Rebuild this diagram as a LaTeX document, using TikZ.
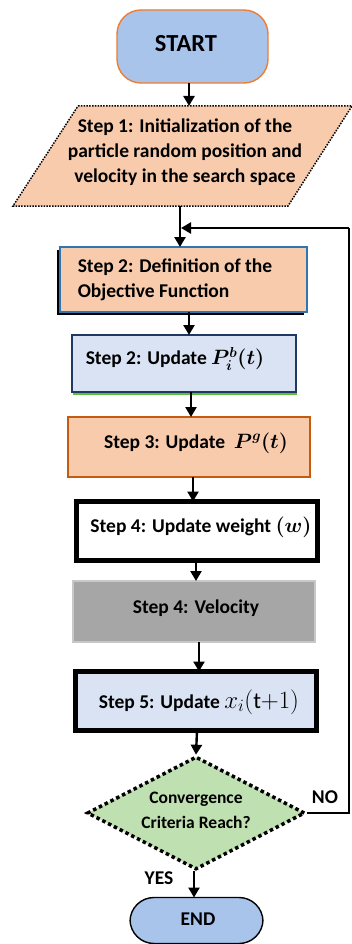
\documentclass[tikz,border=0pt]{standalone}
\usepackage{amsmath}
\usepackage{fontspec}
\setmainfont{Carlito}
\usetikzlibrary{arrows.meta,shapes.geometric}

\definecolor{capblue}{HTML}{A9C4EB}
\definecolor{peach}{HTML}{F8CBAD}
\definecolor{paleblue}{HTML}{DAE3F3}
\definecolor{edgeorange}{HTML}{ED7D31}
\definecolor{darkorange}{HTML}{C55A11}
\definecolor{edgeblue}{HTML}{2E75B6}
\definecolor{navy}{HTML}{1F3864}
\definecolor{shadegreen}{HTML}{5BC236}
\definecolor{midgray}{HTML}{A6A6A6}
\definecolor{lightgray}{HTML}{C8C8C8}
\definecolor{leafgreen}{HTML}{BFE0B0}

\tikzset{
  boxtext/.style={font=\bfseries\fontsize{19.5}{25}\selectfont, align=center, inner sep=0pt},
  box/.style={rectangle, inner sep=0pt, outer sep=0pt},
  terminal/.style={box, rounded corners=24pt, line width=1.4pt},
  arr/.style={line width=2.4pt, -{Triangle[length=10pt,width=11pt]}},
  loopline/.style={line width=1.6pt},
  tag/.style={font=\bfseries\fontsize{19.5}{22}\selectfont, inner sep=0pt}
}

\begin{document}
\begin{tikzpicture}[x=1pt,y=-1pt]
\useasboundingbox (0,0) rectangle (352,944);

% start terminal
\node[terminal, draw=edgeorange, fill=capblue, minimum width=151pt, minimum height=73pt]
  (start) at (192.5,46.5) {};
\node[font=\bfseries\fontsize{24.5}{28}\selectfont, inner sep=0pt] (starttxt) at (186,44) {START};

% step 1: input parallelogram
\draw[fill=peach, line width=1.5pt, dash pattern=on 1.5pt off 1.3pt]
  (78,106) -- (352,106) -- (288,206) -- (13,206) -- cycle;
\coordinate (s1n) at (189,106);
\coordinate (s1s) at (180,206);
\node[boxtext] (step1) at (185,152) {Step 1: Initialization of the\\particle random  position and\\velocity in the search space};

% step 2: objective function
\fill (180.5,282.5) ++(-123.5,-32.5) rectangle ++(247,65);
\node[box, draw=edgeblue, fill=peach, line width=1.2pt, minimum width=247pt, minimum height=65pt]
  (step2) at (183.5,279.5) {};
\node[boxtext, align=left] (step2txt) at (175,280) {Step 2: Definition of the\\Objective Function};

% step 2: personal best
\fill[shadegreen] (185,366) ++(-112,-28.5) rectangle ++(224,57);
\node[box, draw=navy, fill=paleblue, line width=1.2pt, minimum width=224pt, minimum height=57pt]
  (step2u) at (184,363.5) {};
\node[boxtext] (step2utxt) at (175,359) {Step 2: Update {\fontsize{21}{25}\selectfont\boldmath$P_i^b(t)$}};

% step 3: global best
\node[box, draw=darkorange, fill=peach, line width=1.2pt, minimum width=242pt, minimum height=60pt]
  (step3) at (189,447) {};
\node[boxtext] (step3txt) at (196,443) {Step 3: Update \ {\fontsize{21}{25}\selectfont\boldmath$P^g(t)$}};

% step 4: inertia weight
\node[box, draw=black, fill=white, line width=5pt, minimum width=241pt, minimum height=59pt]
  (step4w) at (197,531) {};
\node[boxtext] (step4wtxt) at (201,527) {Step 4: Update weight {\boldmath$(w)$}};

% step 4: velocity
\node[box, draw=lightgray, fill=midgray, line width=1.5pt, minimum width=242pt, minimum height=61pt]
  (step4v) at (194,611.5) {};
\node[boxtext] (step4vtxt) at (196,608) {Step 4: Velocity};

% step 5: position
\node[box, draw=black, fill=paleblue, line width=4.5pt, minimum width=241pt, minimum height=59pt]
  (step5) at (196,701) {};
\node[boxtext] (step5txt) at (199,702) {Step 5: Update {\fontsize{23}{25}\selectfont$x_i(\mathrm{t}{+}1)$}};

% convergence test
\node[diamond, draw=black, fill=leafgreen, line width=3.5pt, dash pattern=on 3.5pt off 3pt,
      minimum width=218pt, minimum height=113pt, inner sep=0pt, aspect=1.93]
  (dec) at (196,813) {};
\node[font=\bfseries\fontsize{17.5}{25}\selectfont, align=center, inner sep=0pt]
  (dectxt) at (196,810) {Convergence\\Criteria Reach?};

% end terminal
\node[terminal, draw=black, fill=capblue, minimum width=133pt, minimum height=46pt]
  (finish) at (196.5,920.5) {};
\node[font=\bfseries\fontsize{19.5}{22}\selectfont, inner sep=0pt] (finishtxt) at (198,919) {END};

% labels on the decision branches
\node[tag] (no) at (325,797) {NO};
\node[tag] (yes) at (159,878) {YES};

% flow connectors
\draw[arr] (start.south -| 189,0) -- (s1n);
\draw[arr] (s1s) -- (step2.north -| 180,0);
\draw[arr] (step2.south -| 189,0) -- (step2u.north -| 189,0);
\draw[arr] (step2u.south -| 191,0) -- (step3.north -| 191,0);
\draw[arr] (step3.south -| 193,0) -- (step4w.north -| 193,0);
\draw[arr] (step4w.south -| 196,0) -- (step4v.north -| 196,0);
\draw[arr] (step4v.south -| 199,0) -- (step5.north -| 199,0);
\draw[arr] (step5.south -| 197,0) -- (dec.north);
\draw[arr] (dec.south -| 194,0) -- (finish.north -| 194,0);

% loop back when not converged
\coordinate (loopdown) at (349,813);
\coordinate (looptop) at (349,228);
\draw[loopline] (dec.east) -- (loopdown) -- (looptop);
\draw[arr] (looptop) -- (181,228);
\end{tikzpicture}
\end{document}
